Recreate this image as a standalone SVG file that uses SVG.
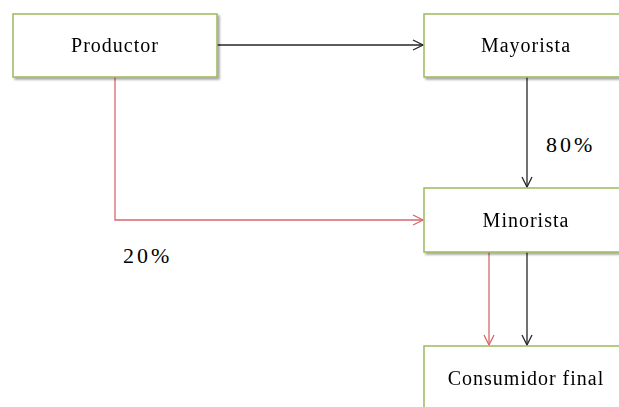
<svg xmlns="http://www.w3.org/2000/svg" width="619" height="407" viewBox="0 0 619 407">
<style>
.box{fill:#fff;stroke:#9BBB59;stroke-width:1.5}
.lbl{font-family:"Liberation Serif","Times New Roman",serif;font-size:20px;fill:#000;text-anchor:middle;dominant-baseline:central;letter-spacing:1px}
.pct{font-family:"Liberation Serif","Times New Roman",serif;font-size:22px;fill:#000;letter-spacing:3px}
.blk{stroke:#262626;stroke-width:1.3;fill:none}
.red{stroke:#D9676A;stroke-width:1.3;fill:none}
</style>
<defs>
<filter id="ds" x="-5%" y="-5%" width="115%" height="130%">
<feGaussianBlur in="SourceAlpha" stdDeviation="1.2"/>
<feOffset dx="1.5" dy="2" result="b"/>
<feComponentTransfer><feFuncA type="linear" slope="0.35"/></feComponentTransfer>
<feMerge><feMergeNode/><feMergeNode in="SourceGraphic"/></feMerge>
</filter>
<marker id="ab" markerWidth="12" markerHeight="12" refX="11" refY="6" orient="auto" markerUnits="userSpaceOnUse">
<path d="M1,1 L11,6 L1,11" fill="none" stroke="#262626" stroke-width="1.3"/>
</marker>
<marker id="ar" markerWidth="12" markerHeight="12" refX="11" refY="6" orient="auto" markerUnits="userSpaceOnUse">
<path d="M1,1 L11,6 L1,11" fill="none" stroke="#D9676A" stroke-width="1.3"/>
</marker>
</defs>
<rect width="619" height="407" fill="#fff"/>
<g id="connectors">
<line class="blk" x1="217" y1="45" x2="423" y2="45" marker-end="url(#ab)"/>
<line class="blk" x1="527" y1="77" x2="527" y2="187" marker-end="url(#ab)"/>
<polyline class="red" points="115,77 115,220 423,220" marker-end="url(#ar)"/>
<line class="red" x1="489" y1="252" x2="489" y2="345" marker-end="url(#ar)"/>
<line class="blk" x1="527" y1="252" x2="527" y2="345" marker-end="url(#ab)"/>
</g>
<g id="productor" filter="url(#ds)">
<rect class="box" x="13" y="14" width="204" height="63"/>
<text class="lbl" x="115" y="45">Productor</text>
</g>
<g id="mayorista" filter="url(#ds)">
<rect class="box" x="424" y="14" width="204" height="63"/>
<text class="lbl" x="526" y="45">Mayorista</text>
</g>
<g id="minorista" filter="url(#ds)">
<rect class="box" x="424" y="188" width="204" height="64"/>
<text class="lbl" x="526" y="220">Minorista</text>
</g>
<g id="consumidor" filter="url(#ds)">
<rect class="box" x="424" y="346" width="204" height="70"/>
<text class="lbl" x="526" y="378">Consumidor final</text>
</g>
<g id="labels">
<text class="pct" x="546" y="152">80%</text>
<text class="pct" x="123" y="263">20%</text>
</g>
</svg>
